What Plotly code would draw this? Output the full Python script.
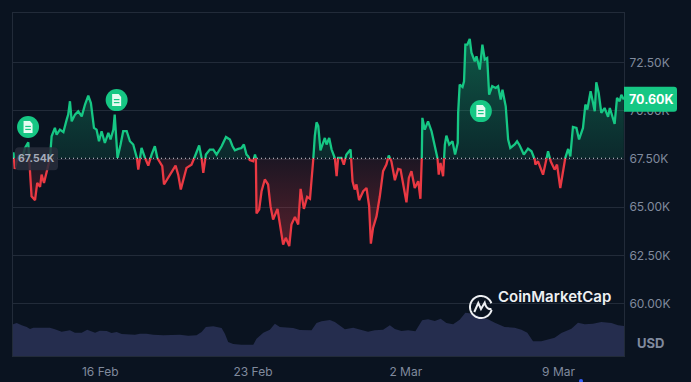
import numpy as np
import plotly.graph_objects as go

# days since 12 Feb
price_days = [0.02,0.08,0.17,0.29,0.41,0.55,0.70,0.78,0.85,1.01,1.11,1.24,1.31,1.42,1.54,1.69,1.77,1.92,2.00,2.15,2.31,2.46,2.53,2.61,2.69,2.84,2.99,3.15,3.30,3.45,3.57,3.71,3.83,3.94,4.06,4.21,4.37,4.47,4.60,4.66,4.72,4.79,4.93,5.05,5.21,5.36,5.51,5.66,5.74,5.89,6.05,6.20,6.35,6.50,6.61,6.73,6.84,6.92,7.11,7.27,7.45,7.57,7.69,7.85,7.95,8.18,8.41,8.53,8.64,8.72,8.84,9.02,9.18,9.33,9.56,9.76,9.94,
10.06,10.17,10.32,10.47,10.58,10.70,10.78,10.85,11.01,11.09,11.13,11.16,11.28,11.39,11.54,11.69,11.80,11.92,12.12,12.23,12.38,12.50,12.66,12.76,12.92,13.07,13.18,13.33,13.48,13.61,13.73,13.83,13.91,13.99,14.09,14.29,14.37,14.49,14.60,14.75,14.83,14.90,15.05,15.16,15.28,15.47,15.56,15.66,15.74,15.86,16.05,16.20,16.32,16.40,16.50,16.66,16.81,16.96,17.11,17.22,17.34,17.50,17.65,17.76,17.88,18.03,18.14,18.26,18.41,18.57,18.67,18.72,18.76,18.87,19.02,19.18,19.33,19.44,19.51,19.59,19.71,19.79,19.86,19.99,20.14,20.26,20.38,
20.40,20.47,20.60,20.67,20.73,20.82,20.93,21.01,21.16,21.24,21.39,21.51,21.62,21.73,21.82,21.96,22.12,22.23,22.35,22.43,22.58,22.69,22.79,22.99,23.10,23.22,23.41,23.60,23.76,23.91,23.94,24.06,24.29,24.44,24.52,24.64,24.82,24.93,25.08,25.21,25.31,25.44,25.54,25.66,25.82,25.94,26.12,26.23,26.32,26.47,26.66,26.73,26.84,26.96,27.11,27.27,27.35,27.57,27.68,27.80,27.88,27.99]
# price, thousands of USD
price_k = [67.85,66.99,67.38,67.73,67.47,68.07,68.37,66.78,65.57,65.37,66.26,66.06,66.69,66.26,66.87,67.47,68.68,69.11,68.76,69.02,68.89,69.54,69.80,70.49,69.45,69.80,69.97,69.71,70.32,70.78,70.40,69.11,69.02,68.42,68.94,68.33,68.85,68.51,69.02,69.80,68.51,67.56,68.25,68.94,68.94,68.42,68.25,67.73,66.95,68.07,67.56,67.16,67.73,68.16,67.56,67.30,67.13,66.18,66.52,66.87,67.16,66.69,65.92,66.61,67.04,67.21,67.82,68.20,67.56,66.78,67.73,67.99,67.99,67.73,68.16,68.64,68.51,
68.16,67.95,68.02,68.07,68.25,67.73,67.64,67.44,67.38,67.73,67.56,64.68,64.88,65.83,66.44,66.18,65.06,64.37,64.92,64.02,63.07,63.42,62.99,64.11,64.50,64.11,65.95,64.92,65.54,65.44,66.95,68.68,69.40,69.20,67.95,68.59,68.25,68.59,67.99,67.54,66.61,67.56,67.56,67.21,67.73,67.99,66.35,65.92,66.18,65.37,65.83,66.00,65.06,63.12,63.93,64.54,65.57,66.87,67.21,67.68,67.38,66.40,66.99,66.95,66.09,65.26,66.52,66.87,66.00,66.35,65.44,66.61,69.63,69.02,69.45,68.94,68.25,67.73,66.69,67.30,66.61,68.25,68.71,68.25,68.42,67.73,68.33,
69.89,71.35,71.23,71.52,73.42,73.42,73.72,73.00,72.56,72.82,72.13,73.42,72.65,72.73,70.83,71.27,71.18,71.27,70.58,71.09,70.23,68.51,68.07,68.25,68.42,68.20,67.73,68.04,67.90,67.47,67.21,67.38,66.69,67.47,67.90,67.38,66.95,67.21,66.00,66.78,67.56,68.02,67.64,69.16,69.11,68.51,69.11,70.32,70.06,71.01,69.97,71.47,70.92,69.89,70.14,69.68,70.14,69.32,70.66,70.49,70.83,70.58]
open_price_k = 67.54
last_price_k = 70.60

volume_days = [0.00,0.17,0.40,0.63,0.78,0.93,1.39,1.69,1.92,2.23,2.61,2.84,3.15,3.40,3.76,3.98,4.29,4.52,4.75,4.98,5.59,5.82,6.12,6.43,6.89,7.65,8.03,8.41,8.64,8.84,9.18,9.56,9.71,9.86,10.09,10.47,11.01,11.16,11.47,11.77,12.00,12.23,12.84,13.15,13.68,13.91,14.14,14.52,14.75,15.21,15.59,15.97,16.27,16.58,16.96,17.27,17.50,17.80,18.11,18.44,18.75,19.02,19.33,19.60,19.86,20.17,20.47,20.73,21.08,21.47,21.77,22.08,22.53,22.99,23.30,23.57,23.83,24.21,24.52,24.82,25.13,25.59,25.89,26.20,26.58,26.96,27.42,27.73,28.00]
volume_b = [31.7,33.0,30.7,29.0,27.0,28.3,28.3,28.3,26.7,24.3,25.7,23.3,23.3,26.3,23.3,25.3,25.0,23.0,24.0,22.0,21.3,22.3,22.3,21.3,20.7,21.3,20.3,20.7,24.0,29.0,29.7,28.0,22.3,14.0,12.0,11.3,11.3,17.3,23.3,26.3,32.3,29.0,28.0,26.0,25.7,33.0,34.7,36.0,34.0,26.8,28.3,25.7,24.3,25.7,26.3,30.7,27.0,25.0,25.7,24.7,35.7,36.7,35.0,37.3,33.0,31.7,36.3,43.3,42.3,39.0,36.7,33.3,29.0,28.3,26.3,23.3,14.7,14.7,16.3,18.3,23.0,27.3,33.3,31.7,32.3,34.0,33.0,30.7,30.0]

event_days = [0.69, 4.75, 21.44]
event_price_k = [69.16, 70.55, 69.98]

date_ticks = [4, 11, 18, 25]
date_labels = ["16 Feb", "23 Feb", "2 Mar", "9 Mar"]
price_ticks = [60, 62.5, 65, 67.5, 70, 72.5]
price_labels = ["60.00K", "62.50K", "65.00K", "67.50K", "70.00K", "72.50K"]

BG = "#0a1320"
GREEN = "#16c784"
RED = "#ea3943"
GREY = "#808a9d"
GRID = "#222b39"
FONT = "Inter, sans-serif"
L, R, T, B = 13, 624, 13, 356
W, H = 691, 382

def px(x):
    return (x - L) / (R - L)

def py(y):
    return (B - y) / (B - T)

# insert the crossings of the opening price so the two colours meet exactly
d = np.array(price_days, float)
v = np.array(price_k, float)
xs, ys = [], []
for i in range(len(d)):
    if i and (v[i - 1] - open_price_k) * (v[i] - open_price_k) < 0:
        t = (open_price_k - v[i - 1]) / (v[i] - v[i - 1])
        xs.append(d[i - 1] + t * (d[i] - d[i - 1]))
        ys.append(open_price_k)
    xs.append(d[i])
    ys.append(v[i])
xs, ys = np.array(xs), np.array(ys)

fig = go.Figure()
fig.add_trace(go.Scatter(
    x=volume_days, y=volume_b, yaxis="y2", mode="lines", line=dict(width=0), fill="tozeroy",
    fillcolor="#252d4e", hoverinfo="skip"))

for mask_fn, clip, color, rgb in [
    (ys >= open_price_k, np.maximum, GREEN, "22,199,132"),
    (ys <= open_price_k, np.minimum, RED, "234,57,67"),
]:
    fig.add_trace(go.Scatter(x=xs, y=np.full_like(ys, open_price_k), mode="lines", line=dict(width=0), hoverinfo="skip"))
    fig.add_trace(go.Scatter(
        x=xs, y=clip(ys, open_price_k), mode="lines", line=dict(width=0), fill="tonexty",
        fillgradient=dict(type="vertical", colorscale=(
            [[0, f"rgba({rgb},0.34)"], [1, f"rgba({rgb},0.08)"]] if color == RED else
            [[0, f"rgba({rgb},0.12)"], [1, f"rgba({rgb},0.38)"]])),
        hoverinfo="skip"))
    fig.add_trace(go.Scatter(
        x=xs, y=np.where(mask_fn, ys, np.nan), mode="lines",
        line=dict(color=color, width=2.3, shape="linear"), connectgaps=False, hoverinfo="skip"))

fig.add_trace(go.Scatter(
    x=event_days, y=event_price_k, mode="markers",
    marker=dict(size=22, color=GREEN, line=dict(width=0)), hoverinfo="skip"))

shapes = [dict(type="line", xref="paper", x0=0, x1=1, yref="y", y0=open_price_k, y1=open_price_k,
               line=dict(color="#d5d9e0", width=1.2, dash="1px,3px"), layer="above")]

doc = "M -4.5 6 L 2 6 L 4.5 3 L 4.5 -6 L -4.5 -6 Z"
for ed, ep in zip(event_days, event_price_k):
    shapes.append(dict(type="path", xsizemode="pixel", ysizemode="pixel", xanchor=ed, yanchor=ep,
                       xref="x", yref="y", path=doc, fillcolor="#e6fbf2", line=dict(width=0), layer="above"))
    for yy, xe in [(0.5, 2.8), (-2.5, 2.8)]:
        shapes.append(dict(type="path", xsizemode="pixel", ysizemode="pixel", xanchor=ed, yanchor=ep,
                           xref="x", yref="y", path=f"M -2.8 {yy} L {xe} {yy}",
                           line=dict(color=GREEN, width=1.2), layer="above"))

# value tags
shapes.append(dict(type="path", xref="paper", yref="y", xsizemode="pixel", ysizemode="pixel",
                   xanchor=px(624), yanchor=last_price_k,
                   path="M 0 12.5 L 50 12.5 Q 53 12.5 53 9.5 L 53 -9.5 Q 53 -12.5 50 -12.5 L 0 -12.5 Z",
                   fillcolor=GREEN, line=dict(width=0), layer="above"))
shapes.append(dict(type="path", xref="paper", yref="y", xsizemode="pixel", ysizemode="pixel",
                   xanchor=px(15), yanchor=open_price_k,
                   path="M 4 11 L 39 11 Q 43 11 43 7 L 43 -8 Q 43 -12 39 -12 L 4 -12 Q 0 -12 0 -8 L 0 7 Q 0 11 4 11 Z",
                   fillcolor="rgba(40,46,60,0.85)", line=dict(width=0), layer="above"))

# CoinMarketCap mark
a = np.radians(np.linspace(20, 345, 60))
ring = "M " + " L ".join(f"{11*np.cos(t):.2f} {11*np.sin(t):.2f}" for t in a)
wave = "M -6.7 -5 L -2.7 4 L 0 -2 L 3.7 4.3 Q 5.5 -3 10.5 -2"
for p in (ring, wave):
    shapes.append(dict(type="path", xref="paper", yref="paper", xsizemode="pixel", ysizemode="pixel",
                       xanchor=px(481), yanchor=py(307), path=p,
                       line=dict(color="#eef0f3", width=2), layer="above"))
# sliver of a blue dot at the bottom edge
shapes.append(dict(type="circle", xref="paper", yref="paper", xsizemode="pixel", ysizemode="pixel",
                   xanchor=px(581), yanchor=py(381), x0=-2, x1=2, y0=-2, y1=2,
                   fillcolor="#3861fb", line=dict(width=0), layer="above"))

annotations = [
    dict(xref="paper", yref="y", x=px(650.5), y=last_price_k, text="<b>70.60K</b>", showarrow=False, xanchor="center",
         font=dict(family=FONT, size=12.5, color="#ffffff")),
    dict(xref="paper", yref="y", x=px(36.5), y=open_price_k, text="<b>67.54K</b>", showarrow=False, xanchor="center",
         font=dict(family=FONT, size=10.5, color="#a5acb9")),
    dict(xref="paper", yref="paper", x=px(650), y=py(353), text="<b>USD</b>", showarrow=False, xanchor="center",
         font=dict(family=FONT, size=13, color=GREY)),
    dict(xref="paper", yref="paper", x=px(554.5), y=py(308), text="CoinMarketCap", showarrow=False, xanchor="center",
         font=dict(family=FONT, size=15, weight=600, color="#eef0f3")),
]

fig.update_layout(
    width=W, height=H, margin=dict(l=L, r=W - R, t=T, b=H - B, autoexpand=False),
    paper_bgcolor=BG, plot_bgcolor=BG, showlegend=False,
    font=dict(family=FONT, size=12, color=GREY),
    shapes=shapes, annotations=annotations,
    xaxis=dict(range=[0, 28], tickmode="array", tickvals=date_ticks, ticktext=date_labels, automargin=False,
               showgrid=False, zeroline=False, showline=True, mirror=True, linecolor=GRID, linewidth=1,
               ticks="outside", ticklen=5, tickcolor="rgba(0,0,0,0)", tickfont=dict(family=FONT, size=12, color=GREY)),
    yaxis=dict(range=[57.30, 75.06], side="right", tickmode="array", tickvals=price_ticks, ticktext=price_labels,
               automargin=False, showgrid=True, gridcolor=GRID, gridwidth=1, zeroline=False, showline=True, mirror=True,
               linecolor=GRID, linewidth=1, ticks="outside", ticklen=2, tickcolor="rgba(0,0,0,0)",
               tickfont=dict(family=FONT, size=12, color=GREY)),
    yaxis2=dict(range=[0, 343], overlaying="y", side="left", visible=False),
)

fig.write_html("out.html", post_script="document.body.style.margin='0';document.body.style.background='%s';" % BG,
               config=dict(displayModeBar=False))
